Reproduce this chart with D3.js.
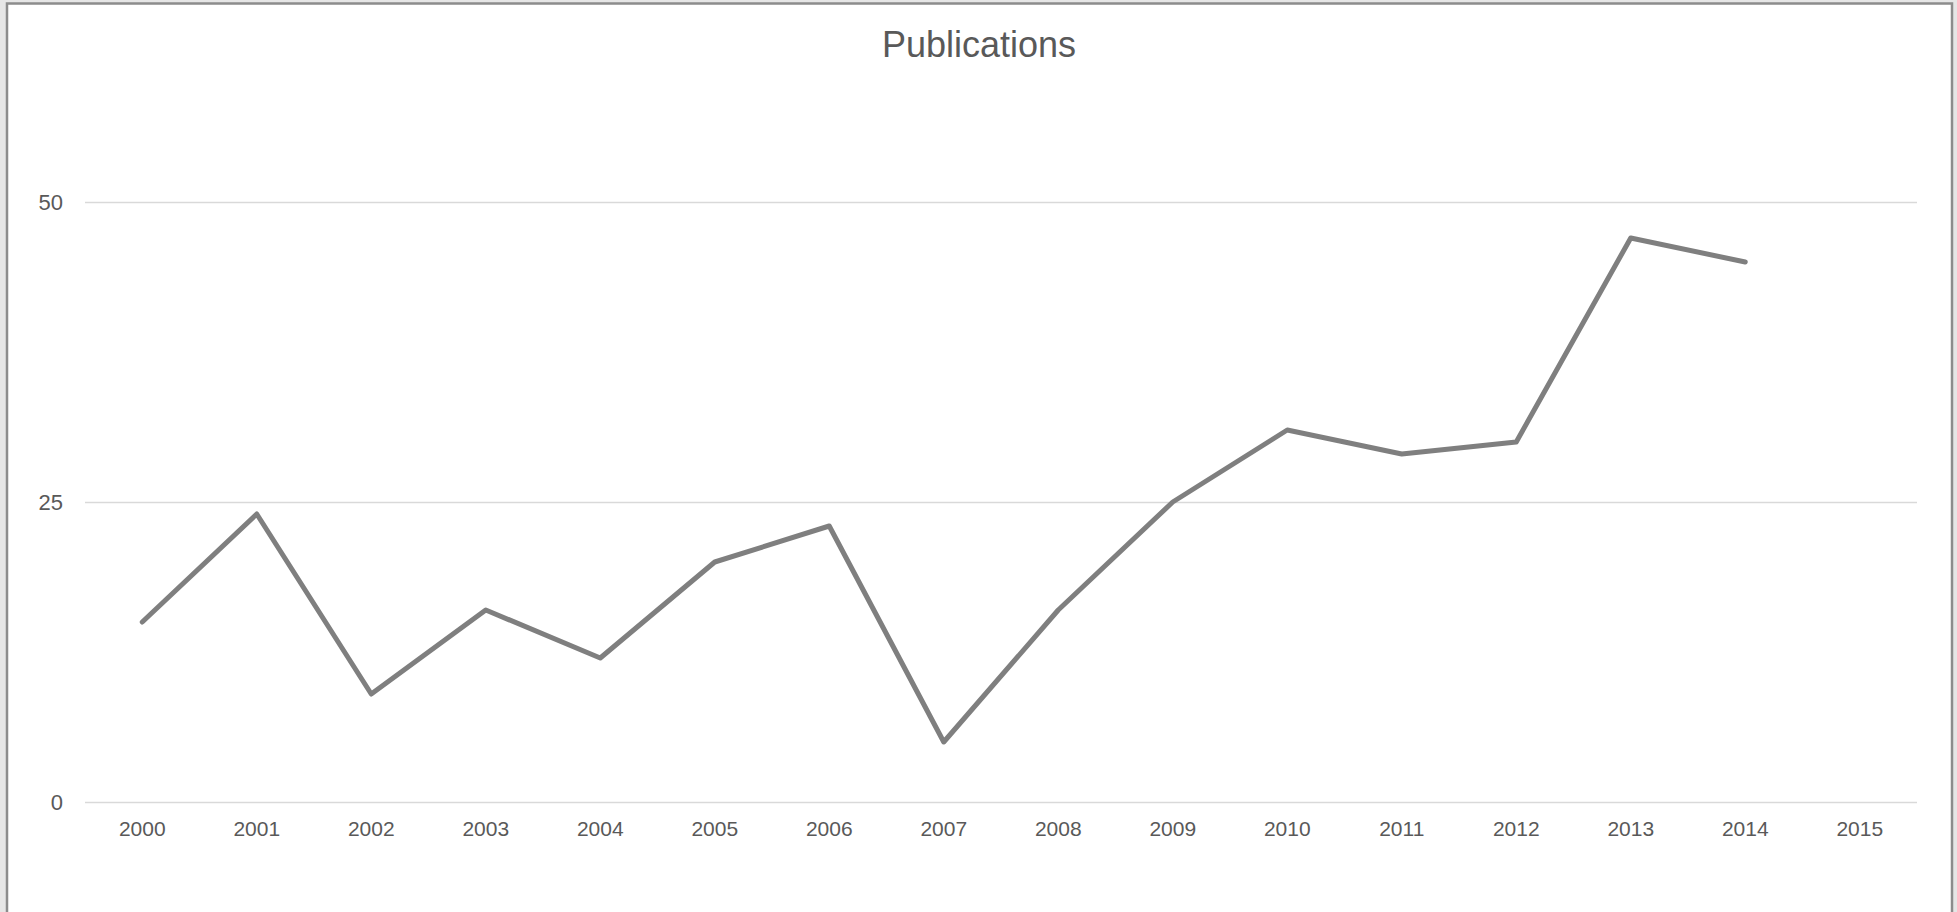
<!DOCTYPE html>
<html>
<head>
<meta charset="utf-8">
<script src="https://cdn.jsdelivr.net/npm/d3@7"></script>
<style>
  body { margin: 0; background: #e6e6e6; overflow: hidden; }
  svg { display: block; }
  text { font-family: "Liberation Sans", Arial, sans-serif; fill: #595959; }
  .axis path { display: none; }
  .grid line { stroke: #d9d9d9; stroke-width: 1.5; }
  .x-axis line { display: none; }
</style>
</head>
<body>
<div id="chart-area"></div>
<script>
// chart data
var years = ["2000","2001","2002","2003","2004","2005","2006","2007",
             "2008","2009","2010","2011","2012","2013","2014","2015"]
var publications = [15, 24, 9, 16, 12, 20, 23, 5, 16, 25, 31, 29, 30, 47, 45]
var yTicks = [0, 25, 50]

var W = 1957, H = 912
var margin = {left:85, right:40, top:202, bottom:110}
var width = W - margin.left - margin.right
var height = H - margin.top - margin.bottom

var svg = d3.select("#chart-area").append("svg")
    .attr("width", W)
    .attr("height", H)

// white chart frame
svg.append("rect")
    .attr("x", 7).attr("y", 3.5)
    .attr("width", 1945).attr("height", 920)
    .attr("fill", "#fff")
    .attr("stroke", "#8c8c8c")
    .attr("stroke-width", 2.5)

svg.append("text")
    .attr("x", 979).attr("y", 57)
    .attr("text-anchor", "middle")
    .style("font-size", "36px")
    .text("Publications")

var g = svg.append("g")
    .attr("transform", "translate(" + margin.left + "," + margin.top + ")")

var x = d3.scaleBand()
    .domain(years)
    .range([0, width])

var y = d3.scaleLinear()
    .domain([0, 50])
    .range([height, 0])

// gridlines + y labels
var yAxisCall = d3.axisLeft(y)
    .tickValues(yTicks)
    .tickSize(-width)
    .tickPadding(22)
g.append("g")
    .attr("class", "axis grid")
    .call(yAxisCall)
    .selectAll("text")
    .style("font-size", "22px")
    .style("fill", "#595959")

var xAxisCall = d3.axisBottom(x).tickSize(0).tickPadding(19)
g.append("g")
    .attr("class", "axis x-axis")
    .attr("transform", "translate(0," + height + ")")
    .call(xAxisCall)
    .selectAll("text")
    .style("font-size", "21px")
    .style("fill", "#595959")

var valueline = d3.line()
    .x(function(d, i) { return x(years[i]) + x.bandwidth() / 2 })
    .y(function(d) { return y(d) })

g.append("path")
    .datum(publications)
    .attr("fill", "none")
    .attr("stroke", "#7f7f7f")
    .attr("stroke-width", 5)
    .attr("stroke-linejoin", "round")
    .attr("stroke-linecap", "round")
    .attr("d", valueline)
</script>
</body>
</html>
